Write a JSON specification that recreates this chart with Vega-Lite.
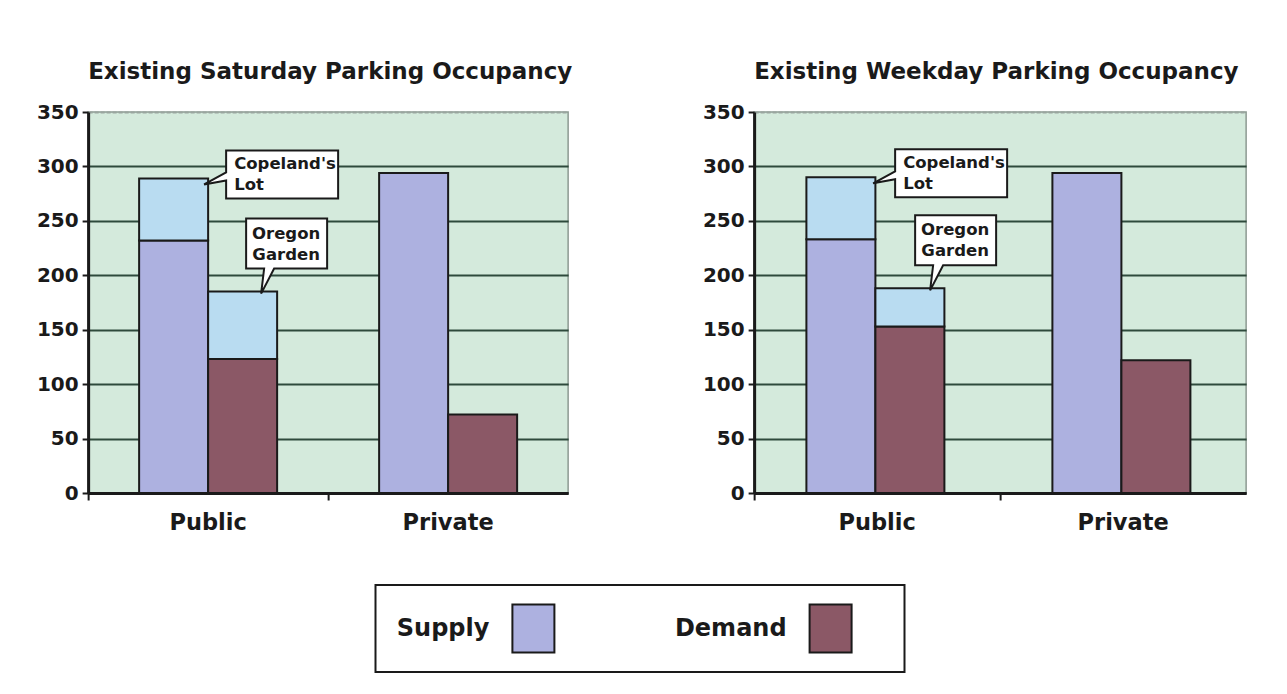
{
  "$schema": "https://vega.github.io/schema/vega-lite/v6.json",
  "padding": {"left": 35, "top": 60, "right": 40, "bottom": 20},
  "background": "white",
  "config": {
    "font": "DejaVu Sans",
    "view": {"fill": "#d4eadc", "stroke": "#8c9a92", "strokeWidth": 1.5},
    "axisY": {"labelFontSize": 20, "labelFontWeight": "bold", "labelColor": "#1a1a1a", "labelPadding": 4, "tickSize": 6, "tickWidth": 2, "tickColor": "#1a1a1a", "domainColor": "#1a1a1a", "domainWidth": 3, "gridWidth": 2},
    "axisX": {"labelFontSize": 22.5, "labelFontWeight": "bold", "labelColor": "#1a1a1a", "labelAngle": 0, "labelPadding": 11, "tickSize": 7, "tickWidth": 2, "tickColor": "#1a1a1a", "domainColor": "#1a1a1a", "domainWidth": 3, "grid": false, "bandPosition": -0.368},
    "title": {"font": "DejaVu Sans", "fontSize": 23, "fontWeight": "bold", "color": "#1a1a1a", "anchor": "start", "frame": "group", "baseline": "bottom", "offset": 18}
  },
  "datasets": {
    "bars": [
      {"panel": "Saturday", "category": "Public", "series": "Supply", "segment": "Supply", "part": "a", "value": 232},
      {"panel": "Saturday", "category": "Public", "series": "Supply", "segment": "Copeland's Lot", "part": "b", "value": 57},
      {"panel": "Saturday", "category": "Public", "series": "Demand", "segment": "Demand", "part": "a", "value": 123},
      {"panel": "Saturday", "category": "Public", "series": "Demand", "segment": "Oregon Garden", "part": "b", "value": 62},
      {"panel": "Saturday", "category": "Private", "series": "Supply", "segment": "Supply", "part": "a", "value": 294},
      {"panel": "Saturday", "category": "Private", "series": "Demand", "segment": "Demand", "part": "a", "value": 72},
      {"panel": "Weekday", "category": "Public", "series": "Supply", "segment": "Supply", "part": "a", "value": 233},
      {"panel": "Weekday", "category": "Public", "series": "Supply", "segment": "Copeland's Lot", "part": "b", "value": 57},
      {"panel": "Weekday", "category": "Public", "series": "Demand", "segment": "Demand", "part": "a", "value": 153},
      {"panel": "Weekday", "category": "Public", "series": "Demand", "segment": "Oregon Garden", "part": "b", "value": 35},
      {"panel": "Weekday", "category": "Private", "series": "Supply", "segment": "Supply", "part": "a", "value": 294},
      {"panel": "Weekday", "category": "Private", "series": "Demand", "segment": "Demand", "part": "a", "value": 122}
    ],
    "notes": [
      {"panel": "Saturday", "category": "Public", "note": "Copeland", "label": "Copeland's\nLot", "top": 289},
      {"panel": "Saturday", "category": "Public", "note": "Oregon", "label": "Oregon\nGarden", "top": 185},
      {"panel": "Weekday", "category": "Public", "note": "Copeland", "label": "Copeland's\nLot", "top": 290},
      {"panel": "Weekday", "category": "Public", "note": "Oregon", "label": "Oregon\nGarden", "top": 188}
    ],
    "legend": [
      {"segment": "Supply"},
      {"segment": "Demand"}
    ]
  },
  "vconcat": [
    {
      "spacing": 128,
      "hconcat": [
        {
          "width": 480, "height": 381,
          "title": {"text": "Existing Saturday Parking Occupancy"},
          "layer": [
            {
              "data": {"name": "bars"},
              "transform": [{"filter": "datum.panel === 'Saturday'"}],
              "mark": {"type": "bar", "stroke": "#1a1a1a", "strokeWidth": 2},
              "encoding": {
                "x": {"field": "category", "type": "nominal", "sort": ["Public", "Private"], "scale": {"paddingInner": 0.425, "paddingOuter": 0.2125}, "axis": {"title": null}},
                "xOffset": {"field": "series", "type": "nominal", "sort": ["Supply", "Demand"], "scale": {"paddingInner": 0, "paddingOuter": 0}},
                "y": {"field": "value", "type": "quantitative", "stack": "zero", "scale": {"domain": [0, 350], "nice": false}, "axis": {"title": null, "values": [0, 50, 100, 150, 200, 250, 300, 350], "grid": true, "gridColor": {"condition": {"test": "datum.value === 350", "value": "#9aa59f"}, "value": "#2e4a3c"}, "gridDash": {"condition": {"test": "datum.value === 350", "value": [4, 2]}, "value": []}}},
                "color": {"field": "segment", "type": "nominal", "scale": {"domain": ["Supply", "Demand", "Copeland's Lot", "Oregon Garden"], "range": ["#adb1e0", "#8b5866", "#b9dcf1", "#b9dcf1"]}, "legend": null},
                "order": {"field": "part", "sort": "ascending"}
              }
            },
            {
              "data": {"name": "notes"},
              "transform": [{"filter": "datum.panel === 'Saturday' && datum.note === 'Copeland'"}],
              "mark": {"type": "point", "shape": "M18,-28H130V20H18V2L-4,6L18,-6Z", "size": 4, "filled": true, "fill": "white", "stroke": "#1a1a1a", "strokeWidth": 2, "opacity": 1},
              "encoding": {"x": {"field": "category", "type": "nominal", "sort": ["Public", "Private"]}, "y": {"field": "top", "type": "quantitative"}}
            },
            {
              "data": {"name": "notes"},
              "transform": [{"filter": "datum.panel === 'Saturday' && datum.note === 'Copeland'"}],
              "mark": {"type": "text", "align": "left", "baseline": "middle", "dx": 26, "dy": -14, "lineBreak": "\n", "lineHeight": 21, "fontSize": 16.5, "fontWeight": "bold", "color": "#1a1a1a"},
              "encoding": {"x": {"field": "category", "type": "nominal", "sort": ["Public", "Private"]}, "y": {"field": "top", "type": "quantitative"}, "text": {"field": "label"}}
            },
            {
              "data": {"name": "notes"},
              "transform": [{"filter": "datum.panel === 'Saturday' && datum.note === 'Oregon'"}],
              "mark": {"type": "point", "shape": "M38,-73H119V-23H66L53,2L56,-23H38Z", "size": 4, "filled": true, "fill": "white", "stroke": "#1a1a1a", "strokeWidth": 2, "opacity": 1},
              "encoding": {"x": {"field": "category", "type": "nominal", "sort": ["Public", "Private"]}, "y": {"field": "top", "type": "quantitative"}}
            },
            {
              "data": {"name": "notes"},
              "transform": [{"filter": "datum.panel === 'Saturday' && datum.note === 'Oregon'"}],
              "mark": {"type": "text", "align": "center", "baseline": "middle", "dx": 78, "dy": -58, "lineBreak": "\n", "lineHeight": 21, "fontSize": 16.5, "fontWeight": "bold", "color": "#1a1a1a"},
              "encoding": {"x": {"field": "category", "type": "nominal", "sort": ["Public", "Private"]}, "y": {"field": "top", "type": "quantitative"}, "text": {"field": "label"}}
            }
          ]
        },
        {
          "width": 492, "height": 381,
          "title": {"text": "Existing Weekday Parking Occupancy"},
          "layer": [
            {
              "data": {"name": "bars"},
              "transform": [{"filter": "datum.panel === 'Weekday'"}],
              "mark": {"type": "bar", "stroke": "#1a1a1a", "strokeWidth": 2},
              "encoding": {
                "x": {"field": "category", "type": "nominal", "sort": ["Public", "Private"], "scale": {"paddingInner": 0.425, "paddingOuter": 0.2125}, "axis": {"title": null}},
                "xOffset": {"field": "series", "type": "nominal", "sort": ["Supply", "Demand"], "scale": {"paddingInner": 0, "paddingOuter": 0}},
                "y": {"field": "value", "type": "quantitative", "stack": "zero", "scale": {"domain": [0, 350], "nice": false}, "axis": {"title": null, "values": [0, 50, 100, 150, 200, 250, 300, 350], "grid": true, "gridColor": {"condition": {"test": "datum.value === 350", "value": "#9aa59f"}, "value": "#2e4a3c"}, "gridDash": {"condition": {"test": "datum.value === 350", "value": [4, 2]}, "value": []}}},
                "color": {"field": "segment", "type": "nominal", "scale": {"domain": ["Supply", "Demand", "Copeland's Lot", "Oregon Garden"], "range": ["#adb1e0", "#8b5866", "#b9dcf1", "#b9dcf1"]}, "legend": null},
                "order": {"field": "part", "sort": "ascending"}
              }
            },
            {
              "data": {"name": "notes"},
              "transform": [{"filter": "datum.panel === 'Weekday' && datum.note === 'Copeland'"}],
              "mark": {"type": "point", "shape": "M18,-28H130V20H18V2L-4,6L18,-6Z", "size": 4, "filled": true, "fill": "white", "stroke": "#1a1a1a", "strokeWidth": 2, "opacity": 1},
              "encoding": {"x": {"field": "category", "type": "nominal", "sort": ["Public", "Private"]}, "y": {"field": "top", "type": "quantitative"}}
            },
            {
              "data": {"name": "notes"},
              "transform": [{"filter": "datum.panel === 'Weekday' && datum.note === 'Copeland'"}],
              "mark": {"type": "text", "align": "left", "baseline": "middle", "dx": 26, "dy": -14, "lineBreak": "\n", "lineHeight": 21, "fontSize": 16.5, "fontWeight": "bold", "color": "#1a1a1a"},
              "encoding": {"x": {"field": "category", "type": "nominal", "sort": ["Public", "Private"]}, "y": {"field": "top", "type": "quantitative"}, "text": {"field": "label"}}
            },
            {
              "data": {"name": "notes"},
              "transform": [{"filter": "datum.panel === 'Weekday' && datum.note === 'Oregon'"}],
              "mark": {"type": "point", "shape": "M38,-73H119V-23H66L53,2L56,-23H38Z", "size": 4, "filled": true, "fill": "white", "stroke": "#1a1a1a", "strokeWidth": 2, "opacity": 1},
              "encoding": {"x": {"field": "category", "type": "nominal", "sort": ["Public", "Private"]}, "y": {"field": "top", "type": "quantitative"}}
            },
            {
              "data": {"name": "notes"},
              "transform": [{"filter": "datum.panel === 'Weekday' && datum.note === 'Oregon'"}],
              "mark": {"type": "text", "align": "center", "baseline": "middle", "dx": 78, "dy": -58, "lineBreak": "\n", "lineHeight": 21, "fontSize": 16.5, "fontWeight": "bold", "color": "#1a1a1a"},
              "encoding": {"x": {"field": "category", "type": "nominal", "sort": ["Public", "Private"]}, "y": {"field": "top", "type": "quantitative"}, "text": {"field": "label"}}
            }
          ]
        }
      ]
    },
    {
      "width": 529, "height": 87,
      "view": {"fill": "white", "stroke": "#1a1a1a", "strokeWidth": 2},
      "title": {"text": " ", "orient": "right", "offset": 40, "fontSize": 14, "color": "white"},
      "data": {"name": "legend"},
      "encoding": {"x": {"field": "segment", "type": "nominal", "sort": ["Supply", "Demand"], "scale": {"type": "point", "padding": 0.39}, "axis": null}},
      "layer": [
        {"mark": {"type": "text", "align": "right", "baseline": "middle", "dx": -2, "fontSize": 24, "fontWeight": "bold", "color": "#1a1a1a"}, "encoding": {"text": {"field": "segment"}}},
        {"mark": {"type": "point", "shape": "M21,-24H63V24H21Z", "size": 4, "filled": true, "stroke": "#1a1a1a", "strokeWidth": 2, "opacity": 1},
         "encoding": {"color": {"field": "segment", "type": "nominal", "scale": {"domain": ["Supply", "Demand", "Copeland's Lot", "Oregon Garden"], "range": ["#adb1e0", "#8b5866", "#b9dcf1", "#b9dcf1"]}, "legend": null}}}
      ]
    }
  ],
  "spacing": 49,
  "center": true
}
